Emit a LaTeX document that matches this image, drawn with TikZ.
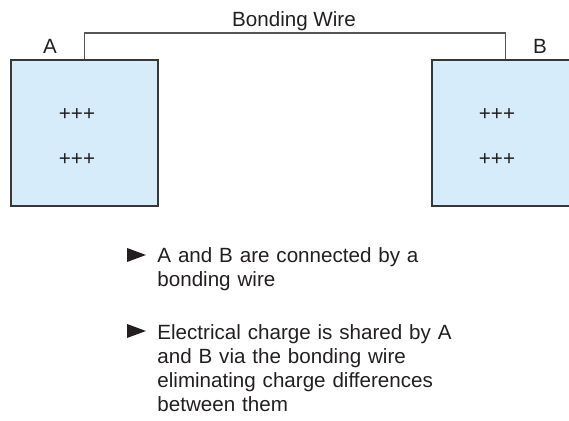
\documentclass[tikz,border=0pt]{standalone}
\usepackage{fontspec}
\setmainfont{Liberation Sans}
\usetikzlibrary{calc}
\definecolor{platefill}{RGB}{214,236,250}
\definecolor{plateline}{RGB}{55,55,55}
\definecolor{wiregray}{RGB}{85,85,85}
\definecolor{textdark}{RGB}{35,31,32}

\begin{document}
\begin{tikzpicture}[x=0.5pt,y=-0.5pt,
   plate/.style={fill=platefill,draw=plateline,line width=0.75pt,inner sep=0pt,minimum width=73.5pt,minimum height=73pt},
   wire/.style={draw=wiregray,line width=0.75pt},
   lbl/.style={font=\fontsize{10.3}{12}\selectfont,text=textdark,inner sep=0pt},
   note/.style={lbl,text width=160pt,align=left,anchor=base west}]

   \useasboundingbox (0,0) rectangle (569,421);

   % the two plates
   \node[plate] (plateA) at (84.5,133) {};
   \node[plate] (plateB) at (505.5,133) {};

   % bonding wire between them
   \draw[wire] (plateA.north) -- ++(0,-26) -| (plateB.north);
   \node[lbl,anchor=base] (wirelab) at (294,27) {Bonding Wire};

   \node[lbl] (labA) at (50,46) {A};
   \node[lbl] (labB) at (540,46) {B};

   % charges
   \node[lbl] (qA1) at (77,115) {+++};
   \node[lbl] (qA2) at (77,160) {+++};
   \node[lbl] (qB1) at (497,115) {+++};
   \node[lbl] (qB2) at (497,160) {+++};

   % notes
   \coordinate (tri1) at (127,248);
   \fill[textdark] (tri1) -- ++(0,14) -- ++(19,-7) -- cycle;
   \node[note] (note1) at (157,263) {A and B are connected by a\\ bonding wire};

   \coordinate (tri2) at (127,324);
   \fill[textdark] (tri2) -- ++(0,14) -- ++(19,-7) -- cycle;
   \node[note] (note2) at (157,340) {Electrical charge is shared by A\\ and B via the bonding wire\\ eliminating charge differences\\ between them};
\end{tikzpicture}
\end{document}
